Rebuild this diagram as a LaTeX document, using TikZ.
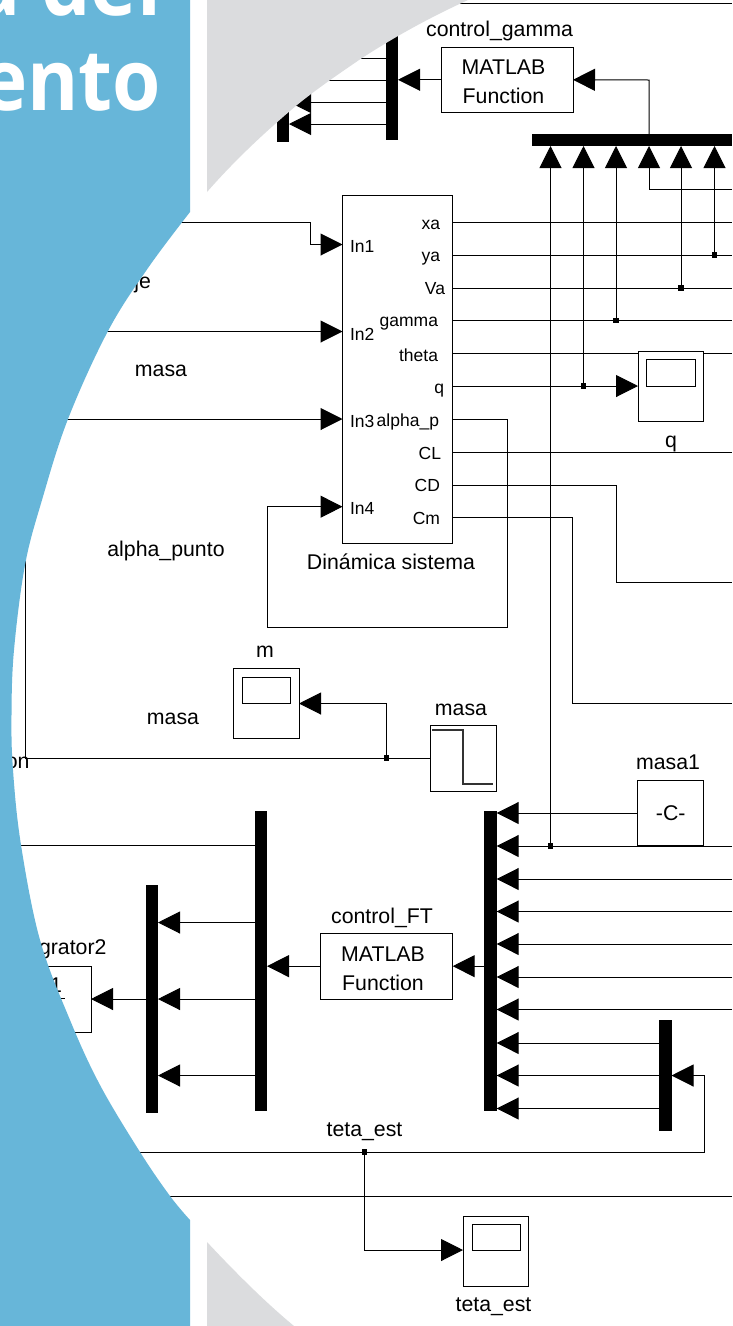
\documentclass[tikz,border=0pt]{standalone}
\usepackage{fontspec}
\setmainfont{Liberation Sans}
\newfontfamily\titlefont[BoldFeatures={FakeStretch=0.92}]{Open Sans}
\usetikzlibrary{arrows.meta}
\definecolor{panelblue}{HTML}{67B6D9}
\definecolor{panelgrey}{HTML}{DBDCDE}
\tikzset{
  x=1pt,y=-1pt,
  wire/.style={draw=black,line width=1pt},
  arrowed/.style={wire,-{Triangle[length=22pt,width=22pt,sep=0pt]}},
  blockbox/.style={draw=black,fill=white,line width=1pt,inner sep=0pt,outer sep=0pt,align=center,font=\fontsize{21.3}{29}\selectfont},
  barbox/.style={draw=none,fill=black,inner sep=0pt,outer sep=0pt},
  lab/.style={inner sep=0pt,outer sep=0pt,font=\fontsize{21.3}{25}\selectfont},
  port/.style={inner sep=0pt,outer sep=0pt,font=\fontsize{17.5}{20}\selectfont},
  junction/.style={fill=black,inner sep=0pt,outer sep=0pt,minimum size=5.5pt,draw=none},
  titletext/.style={inner sep=0pt,outer sep=0pt,text=white,font=\titlefont\bfseries\fontsize{85}{90}\selectfont},
}
% style, name, x1, y1, x2, y2, text
\newcommand{\blk}[7]{\node[#1,minimum width={(#5-#3)*1pt},minimum height={(#6-#4)*1pt}] (#2) at ({(#3+#5)/2},{(#4+#6)/2}) {#7};}
\newcommand{\cc}[3]{\coordinate (#1) at (#2,#3);}
\begin{document}
\begin{tikzpicture}
\useasboundingbox (0,0) rectangle (732,1326);
\clip (0,0) rectangle (732,1326);
\fill[white] (0,0) rectangle (732,1326);

% --- named free ends and corners
\cc{topL}{400}{3}\cc{topR}{732}{3}
\cc{g1}{649}{80}\cc{g2}{649}{189}\cc{g3}{732}{189}
\cc{Ra}{732}{222}\cc{Rb}{732}{255}\cc{Rc}{732}{288}\cc{Rd}{732}{320.5}\cc{Re}{732}{353.5}
\cc{Rf}{732}{452}\cc{Rg}{732}{582.5}\cc{Rh}{732}{703}
\cc{Ri}{732}{846}\cc{Rj}{732}{879}\cc{Rk}{732}{911.5}\cc{Rl}{732}{944}\cc{Rm}{732}{977}\cc{Rn}{732}{1009.5}
\cc{Ro}{732}{1196}\cc{Lo}{0}{1196}
\cc{Ltop}{0}{222}\cc{In1a}{310}{222}\cc{In1b}{310}{244.5}
\cc{Ltwo}{0}{331.5}\cc{Lthree}{0}{419}
\cc{Lfb}{25}{480}\cc{Lfc}{25}{758}
\cc{Lmux}{0}{845.5}\cc{Lteta}{0}{1152}
\cc{afb1}{507}{419}\cc{afb2}{507}{627}\cc{afb3}{267}{627}\cc{afb4}{267}{506.7}
\cc{cd1}{616}{485}\cc{cd2}{616}{582.5}\cc{cm1}{572}{517.5}\cc{cm2}{572}{703}
\cc{mup}{386.5}{703.5}\cc{tup1}{704}{1075.5}\cc{tup2}{704}{1152}\cc{tdown}{364.5}{1250}
% output ports of the main block
\cc{Pa}{452.5}{222}\cc{Pb}{452.5}{255}\cc{Pc}{452.5}{288}\cc{Pd}{452.5}{320.5}\cc{Pe}{452.5}{353.5}
\cc{Pf}{452.5}{386}\cc{Pg}{452.5}{419}\cc{Ph}{452.5}{452}\cc{Pi}{452.5}{485}\cc{Pj}{452.5}{517.5}
% input ports
\cc{I1}{342.5}{244.5}\cc{I2}{342.5}{331.5}\cc{I3}{342.5}{419}\cc{I4}{342.5}{506.7}
% bus arrows tips
\cc{B1}{550.5}{146}\cc{B2}{583.5}{146}\cc{B3}{616}{146}\cc{B4}{649}{146}\cc{B5}{681}{146}\cc{B6}{714.5}{146}
% big mux tips
\cc{M1}{496.7}{813}\cc{M2}{496.7}{846}\cc{M3}{496.7}{879}\cc{M4}{496.7}{911.5}\cc{M5}{496.7}{944}
\cc{M6}{496.7}{977}\cc{M7}{496.7}{1009.5}\cc{M8}{496.7}{1043}\cc{M9}{496.7}{1075.5}\cc{M10}{496.7}{1108.5}
\cc{S8}{659}{1043}\cc{S9}{659}{1075.5}\cc{S10}{659}{1108.5}
\cc{T1}{158}{922.5}\cc{T2}{158}{999}\cc{T3}{158}{1075.5}
\cc{U1}{254.5}{922.5}\cc{U2}{254.5}{999}\cc{U3}{254.5}{1075.5}
\cc{V1}{289}{58}\cc{V2}{289}{80}\cc{V3}{289}{102}\cc{V4}{289}{124}
\cc{W1}{386}{58}\cc{W2}{386}{80}\cc{W3}{386}{102}\cc{W4}{386}{124}
\cc{bar3out}{145.5}{999}

% --- black bars
\blk{barbox}{barA}{277}{78}{289}{142}{}
\blk{barbox}{barB}{386}{21}{398}{139.5}{}
\blk{barbox}{bus}{532}{134}{732}{146}{}
\blk{barbox}{bigmux}{484.3}{810.7}{496.7}{1111}{}
\blk{barbox}{smallmux}{659}{1020}{671.5}{1130.7}{}
\blk{barbox}{demux}{254.5}{810.7}{267}{1111}{}
\blk{barbox}{outmux}{145.5}{884.5}{158}{1113}{}

% --- junctions
\node[junction] (j1) at (714.5,255) {};
\node[junction] (j2) at (681,288) {};
\node[junction] (j3) at (616,320.5) {};
\node[junction] (j4) at (583.5,386) {};
\node[junction] (j5) at (386.5,758) {};
\node[junction] (j6) at (550.5,846) {};
\node[junction] (j7) at (364.5,1152) {};

% --- wires
\draw[wire] (topL) -- (topR);
\draw[wire] (Pa) -- (Ra);
\draw[wire] (Pb) -- (Rb);
\draw[wire] (Pc) -- (Rc);
\draw[wire] (Pd) -- (Rd);
\draw[wire] (Pe) -- (Re);
\draw[wire] (Ph) -- (Rf);
\draw[wire] (Pi) -- (cd1) -- (cd2) -- (Rg);
\draw[wire] (Pj) -- (cm1) -- (cm2) -- (Rh);
\draw[wire] (Lo) -- (Ro);
\draw[wire] (Lmux) -- (demux.west |- Lmux);
\draw[wire] (Lfb) -- (Lfc) -- (j5);

% input wires of the main block
\draw[arrowed] (Ltop) -- (In1a) -- (In1b) -- (I1);
\draw[arrowed] (Ltwo) -- (I2);
\draw[arrowed] (Lthree) -- (I3);
\draw[arrowed] (Pg) -- (afb1) -- (afb2) -- (afb3) -- (afb4) -- (I4);

% --- blocks
\blk{blockbox}{main}{342.5}{195.3}{452.5}{543}{}
\blk{blockbox}{ctlgamma}{441}{47}{573}{112.5}{}
\blk{blockbox}{ctlft}{320.5}{933.3}{452.7}{999}{}
\blk{blockbox}{scopeq}{638}{351}{703.7}{421}{}
\blk{blockbox}{innerq}{646.7}{359.5}{695}{386}{}
\blk{blockbox}{scopem}{233}{668.7}{299}{738.7}{}
\blk{blockbox}{innerm}{242}{677}{290}{703}{}
\blk{blockbox}{step}{430.5}{725}{496}{791}{}
\blk{blockbox}{const}{637.7}{780}{703.7}{845.7}{-C-}
\blk{blockbox}{scopet}{463}{1216}{528.5}{1286}{}
\blk{blockbox}{innert}{472}{1224}{520}{1250}{}
\blk{blockbox}{integ}{25}{966}{91}{1032}{}

% text inside the MATLAB blocks
\node[lab,align=center] (tgamma) at (503.5,82) {MATLAB\\[3.5pt]Function};
\node[lab,align=center] (tft) at (383,969) {MATLAB\\[3.5pt]Function};

% step trace
\draw[line width=1.3pt,draw=black!80] (432,730) -- (463,730) -- (463,784) -- (493,784);
% integrator glyphs
\node[lab,anchor=east] (intnum) at (62,985) {1};
\draw[wire] (50,998.5) -- (65,998.5);

% --- arrows
\draw[arrowed] (ctlgamma.west) -- (barB.east |- ctlgamma.west);
\draw[arrowed] (bus.north -| g1) -- (g1) -- (ctlgamma.east);
\draw[arrowed] (W1) -- (V1);
\draw[arrowed] (W2) -- (V2);
\draw[arrowed] (W3) -- (V3);
\draw[arrowed] (W4) -- (V4);
\draw[arrowed] (g3) -- (g2) -- (B4);
\draw[arrowed] (j1) -- (B6);
\draw[arrowed] (j2) -- (B5);
\draw[arrowed] (j3) -- (B3);
\draw[arrowed] (j4) -- (B2);
\draw[arrowed] (j6) -- (B1);
\draw[arrowed] (Pf) -- (scopeq.west |- Pf);
\draw[arrowed] (j5) -- (mup) -- (scopem.east |- mup);
\draw[wire] (j5) -- (step.west |- j5);
\draw[arrowed] (const.west |- M1) -- (M1);
\draw[arrowed] (Ri) -- (M2);
\draw[arrowed] (Rj) -- (M3);
\draw[arrowed] (Rk) -- (M4);
\draw[arrowed] (Rl) -- (M5);
\draw[arrowed] (Rm) -- (M6);
\draw[arrowed] (Rn) -- (M7);
\draw[arrowed] (S8) -- (M8);
\draw[arrowed] (S9) -- (M9);
\draw[arrowed] (S10) -- (M10);
\draw[arrowed] (bigmux.west |- ctlft.east) -- (ctlft.east);
\draw[arrowed] (ctlft.west) -- (demux.east |- ctlft.west);
\draw[arrowed] (U1) -- (T1);
\draw[arrowed] (U2) -- (T2);
\draw[arrowed] (U3) -- (T3);
\draw[arrowed] (bar3out) -- (integ.east |- bar3out);
\draw[arrowed] (Lteta) -- (tup2) -- (tup1) -- (smallmux.east |- tup1);
\draw[arrowed] (j7) -- (tdown) -- (scopet.west |- tdown);

% --- port labels
\node[port,anchor=east] (oa) at (440,225) {xa};
\node[port,anchor=east] (ob) at (440,259) {ya};
\node[port,anchor=east] (oc) at (445,289) {Va};
\node[port,anchor=east] (od) at (438,324) {gamma};
\node[port,anchor=east] (oe) at (438,355) {theta};
\node[port,anchor=east] (of) at (444,390.5) {q};
\node[port,anchor=east] (og) at (439,422) {alpha\_p};
\node[port,anchor=east] (oh) at (441,453) {CL};
\node[port,anchor=east] (oi) at (440,485) {CD};
\node[port,anchor=east] (oj) at (440,518) {Cm};
\node[port,anchor=west] (ia) at (350,246) {In1};
\node[port,anchor=west] (ib) at (350,334) {In2};
\node[port,anchor=west] (ic) at (350,421.5) {In3};
\node[port,anchor=west] (id) at (350,508.5) {In4};

% --- block labels
\node[lab] (lgamma) at (499.5,31) {control\_gamma};
\node[lab] (lmain) at (391,562) {Dinámica sistema};
\node[lab] (lq) at (671,444) {q};
\node[lab] (lmasa1) at (161,371) {masa};
\node[lab] (lalpha) at (166,551) {alpha\_punto};
\node[lab] (lm) at (265,652) {m};
\node[lab] (lmasa2) at (173,719) {masa};
\node[lab] (lmasa3) at (461,710) {masa};
\node[lab] (lmasa4) at (668,762) {masa1};
\node[lab] (lft) at (382,918) {control\_FT};
\node[lab] (lteta) at (364.5,1131.5) {teta\_est};
\node[lab] (lteta2) at (493.5,1306.5) {teta\_est};
\node[lab,anchor=east] (lint) at (106.5,949) {grator2};
\node[lab,anchor=east] (lje) at (151,283) {je};
\node[lab,anchor=east] (lon) at (29.5,763) {on};

% --- grey corners, over the diagram
\fill[panelgrey] (207,0) -- (468,0) .. controls (420,22) and (387,42) .. (362,58)
  .. controls (340,73) and (318,88) .. (297,105) .. controls (265,132) and (235,160) .. (207,192) -- cycle;
\fill[panelgrey] (207,1242) .. controls (235,1272) and (265,1302) .. (294,1326) -- (207,1326) -- cycle;

% --- blue panel, over the diagram
\fill[panelblue] (0,0) -- (190,0) -- (190,212)
  -- plot[smooth,tension=0.6] coordinates {(190,212) (148,268) (108,331) (68,419) (42,500) (25,565) (14,650) (11.5,715) (13,770) (21,845) (40,940) (70,1020) (100,1085) (140,1152) (170,1196) (190,1220)}
  -- (190,1326) -- (0,1326) -- cycle;

% --- title fragments
\node[titletext,anchor=base east] (t1) at (161,15) {a del};
\node[titletext,anchor=base east] (t2) at (161,110) {ento};
\end{tikzpicture}
\end{document}
